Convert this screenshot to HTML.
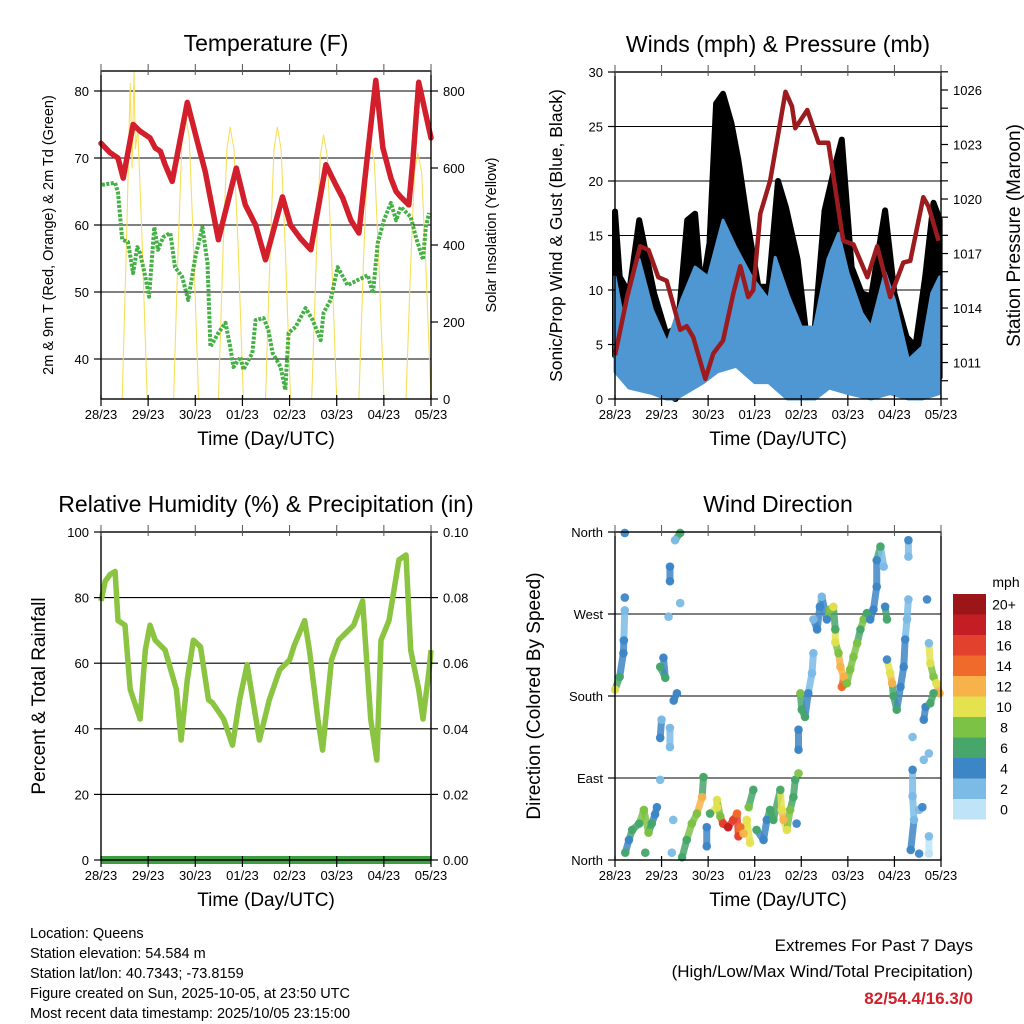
<!DOCTYPE html>
<html><head><meta charset="utf-8">
<style>
html,body{margin:0;padding:0;background:#fff;}
svg{display:block;font-family:"Liberation Sans",Arial,sans-serif;}
</style></head>
<body>
<svg id="root" width="1024" height="1024" viewBox="0 0 1024 1024" xmlns="http://www.w3.org/2000/svg">
<rect width="1024" height="1024" fill="#fff"/>
<g id="p1"></g>
<g id="p2"></g>
<g id="p3"></g>
<g id="p4"></g>
<g font-size="14.5" fill="#000">
<text x="30" y="938">Location: Queens</text>
<text x="30" y="958">Station elevation: 54.584 m</text>
<text x="30" y="978">Station lat/lon: 40.7343; -73.8159</text>
<text x="30" y="998">Figure created on Sun, 2025-10-05, at 23:50 UTC</text>
<text x="30" y="1018">Most recent data timestamp: 2025/10/05 23:15:00</text>
</g>
<g text-anchor="end">
<text x="973" y="951" font-size="17">Extremes For Past 7 Days</text>
<text x="973" y="977" font-size="17">(High/Low/Max Wind/Total Precipitation)</text>
<text x="973" y="1004" font-size="17" font-weight="bold" fill="#d0202a">82/54.4/16.3/0</text>
</g>
</svg>
<script>
const NS='http://www.w3.org/2000/svg';
const dayLabels=['28/23','29/23','30/23','01/23','02/23','03/23','04/23','05/23'];
// Temperature (F)
const tempT=[0,0.19,0.36,0.47,0.68,0.83,1.04,1.15,1.26,1.36,1.51,1.83,2.06,2.21,2.49,2.87,3.06,3.28,3.49,3.85,4.02,4.23,4.45,4.77,4.98,5.13,5.3,5.47,5.83,5.98,6.15,6.26,6.36,6.53,6.62,6.74,7.0];
const tempV=[72.2,70.8,70,67,75,74,73,71.5,71,69,66.5,78.3,72,68,57.8,68.5,63,60,54.8,64.2,60,58,56.3,69,66,64,60.7,58.8,81.6,71.5,67,65,64.2,63,70,81.3,73];
const dewT=[0.02,0.3,0.36,0.45,0.57,0.68,0.77,0.83,0.94,1.02,1.13,1.21,1.32,1.47,1.57,1.72,1.85,2.0,2.15,2.26,2.32,2.49,2.64,2.74,2.81,2.96,3.02,3.21,3.28,3.45,3.55,3.64,3.81,3.91,3.98,4.13,4.34,4.49,4.66,4.72,4.87,5.02,5.23,5.45,5.66,5.77,5.87,6.0,6.15,6.26,6.36,6.57,6.68,6.83,6.89,6.96];
const dewV=[66,66.3,64.8,57.8,57.5,52.8,56.7,55.8,52.3,49.3,59.7,56.3,58.2,58.8,53.7,52.3,48.8,55.2,59.7,54.3,41.8,43.9,45.4,41.8,38.8,40.3,38.4,40.9,45.8,46.1,44.3,40.9,38.8,35.4,43.9,44.8,47.6,45.8,42.8,46.9,48.8,53.7,51,51.8,52.5,49.8,57.3,60.7,63.3,60.7,62.7,61.2,58.2,54.8,59.7,61.8];
const solarT=[0.45,0.55,0.62,0.66,0.7,0.73,0.78,0.87,0.98,1.54,1.64,1.72,1.79,1.87,1.96,2.07,2.49,2.59,2.67,2.74,2.82,2.91,3.02,3.49,3.59,3.67,3.74,3.82,3.91,4.02,4.47,4.57,4.65,4.72,4.8,4.89,5.0,5.47,5.57,5.65,5.72,5.8,5.89,6.0,6.47,6.57,6.65,6.72,6.8,6.89,7.0];
const solarV=[0,450,820,600,880,650,700,420,0,0,405,680,738,680,405,0,0,390,650,706,650,390,0,0,390,650,706,650,390,0,0,375,630,686,630,375,0,0,365,615,668,615,365,0,0,350,590,639,590,350,0];
// Winds / pressure
const gustT=[0,0.1,0.3,0.52,0.84,1.1,1.35,1.55,1.72,1.86,2.03,2.17,2.32,2.5,2.65,2.86,3.08,3.3,3.5,3.67,3.92,4.13,4.28,4.5,4.72,4.87,5.08,5.3,5.5,5.8,6.0,6.26,6.45,6.66,6.84,6.97];
const gustV=[17.2,11.2,9.7,16.4,9.7,6,6.6,16.4,17,9.7,14.3,27.1,28,25.3,21.9,15.8,10.3,10.3,20,17.6,12.8,5.1,6,17.3,21.3,23.8,12.1,9.7,9.4,17.3,9.7,5.7,4.8,11.2,18,16.5];
const windHiT=[0,0.18,0.52,0.8,1.12,1.43,1.72,2.0,2.32,2.58,2.93,3.3,3.44,3.73,4.0,4.28,4.57,4.8,5.0,5.3,5.5,5.8,6.0,6.3,6.6,6.8,6.97];
const windHi=[11.2,7.2,12.8,8.2,5.1,9.1,12.1,11.2,16.4,14,11.2,9.1,13,9.4,6.6,6.6,12.8,15.2,11.6,7.9,6.6,11.6,9.1,3.6,4.8,9.7,11.2];
const windLoT=[0,0.3,0.8,1.1,1.3,1.5,1.9,2.2,2.6,3.0,3.3,3.7,4.0,4.3,4.6,5.0,5.5,5.9,6.3,6.6,6.97];
const windLo=[4,2.5,2,0.5,0,2,3,4,4.5,3,3,1,0.5,0.5,2.5,2,1,2,0.5,0.5,2];
const presT=[0,0.26,0.54,0.72,0.93,1.11,1.4,1.54,1.68,1.94,2.11,2.32,2.54,2.69,2.86,2.97,3.12,3.33,3.66,3.8,3.87,4.13,4.37,4.58,4.9,5.12,5.42,5.63,5.91,6.19,6.34,6.62,6.73,6.95];
const presV=[1011.4,1014.6,1017.4,1017.2,1015.7,1015.5,1012.8,1013,1012.4,1010.1,1011.5,1012.2,1014.8,1016.3,1014.6,1015,1019.2,1021,1025.9,1025.1,1023.9,1024.9,1023.1,1023.1,1017.7,1017.5,1015.7,1017.4,1014.6,1016.5,1016.6,1020.1,1019.6,1017.7];
// Humidity
const rhT=[0,0.09,0.19,0.3,0.36,0.51,0.62,0.83,0.94,1.04,1.15,1.36,1.6,1.7,1.83,1.96,2.11,2.28,2.36,2.6,2.79,2.94,3.1,3.36,3.57,3.79,4.0,4.1,4.32,4.42,4.6,4.7,4.89,5.04,5.36,5.55,5.72,5.85,5.94,6.11,6.32,6.47,6.57,6.74,6.83,6.96,7.0];
const rhV=[79,85,87,88,73,71.6,52,43,64,71.6,67,64,52,36.6,55,67,65,48.8,48,43,35,48.8,59.5,36.6,48.8,58,61,65.5,73,64,43,33.5,61,67,71.6,79,43,30.5,67,73,91.5,93,64,52,43,58,64];
const precipT=[0,7];
const precipV=[0,0];
// Wind direction observations (10 per line)
const dirT=[
0,0.1,0.18,0.19,0.21,0.21,0.21,0.22,0.3,0.37,
0.52,0.62,0.72,0.79,0.86,0.9,0.65,0.97,0.97,1.08,
1.04,1.0,0.97,1.18,1.18,1.15,1.18,1.18,1.29,1.4,
1.4,1.33,1.26,1.25,1.22,1.44,1.54,1.65,1.76,1.87,
1.9,1.97,1.97,2.04,2.19,2.19,2.26,2.32,2.43,2.54,
2.62,2.65,2.69,2.76,2.83,2.9,2.87,2.97,3.04,3.19,
3.26,3.33,3.4,3.55,3.58,3.62,3.69,3.76,3.83,3.87,
3.9,3.94,3.94,3.94,3.98,4.01,4.08,4.15,4.23,4.26,
4.26,4.34,4.4,4.44,4.55,4.62,4.69,4.73,4.73,4.8,
4.84,4.91,4.87,4.98,5.05,5.12,5.2,5.27,5.34,5.41,
5.48,5.55,5.62,5.62,5.7,5.77,5.8,5.84,5.84,5.91,
5.95,5.98,6.05,6.13,6.2,6.23,6.27,6.3,6.3,6.3,
6.39,6.39,6.39,6.42,6.35,6.53,6.53,6.6,6.63,6.63,
6.67,6.74,6.74,6.74,6.7,6.74,6.77,6.84,6.9,6.97,
6.84,6.77];
const dirDeg=[
187,201,227,241,274,359,288,8,22,33,
40,55,30,40,50,58,8,88,212,200,
222,154,134,145,124,267,322,306,351,359,
282,183,175,44,8,3,22,40,51,69,
91,36,15,51,58,66,48,40,36,44,
51,26,36,29,44,19,58,77,33,22,
44,55,44,77,55,44,33,55,69,88,
40,95,143,121,183,165,157,183,205,227,
264,253,278,289,264,275,278,253,239,227,
212,201,190,194,209,223,238,253,264,271,
264,275,300,329,344,322,278,264,220,205,
194,180,165,190,212,242,264,286,351,333,
135,99,70,44,11,55,7,58,110,154,
168,117,26,7,286,238,216,201,194,183,
183,172];
const dirSpd=[
10,6,4,4,2,4,4,6,4,6,
6,8,8,6,4,4,6,2,6,6,
4,2,4,2,2,2,4,4,2,6,
2,4,4,2,2,6,6,8,8,12,
6,4,4,6,10,10,8,16,18,16,
14,16,14,12,10,10,8,6,6,4,
4,6,6,6,10,12,10,8,6,6,
4,8,4,4,8,6,6,4,2,2,
2,4,4,2,4,8,10,6,10,8,
12,12,14,8,8,8,8,6,8,6,
4,4,4,4,6,2,4,6,4,10,
12,6,6,4,4,4,2,2,4,2,
2,4,2,2,4,2,4,4,2,4,
4,2,2,0,4,2,10,8,10,12,
6,6];
const cbLabels=['0','2','4','6','8','10','12','14','16','18','20+'];
const cbColors=['#bfe4f8','#7cbbe6','#3d86c6','#47a66a','#7cc245','#e4e24f','#f8b24a','#f06b2b','#e2412e','#c41e24','#9c1519'];

function el(tag,attrs,parent,text){const e=document.createElementNS(NS,tag);for(const k in attrs)e.setAttribute(k,attrs[k]);if(text!==undefined)e.textContent=text;parent.appendChild(e);return e;}
function pathD(xs,ys){return xs.map((x,i)=>(i?'L':'M')+x.toFixed(1)+' '+ys[i].toFixed(1)).join(' ');}

function frame(g,L,R,T,B,o){
  o.grid.forEach(yv=>{const l=el('line',{x1:L,x2:R,y1:yv,y2:yv,stroke:'#000','stroke-width':1.1},g);
    });
}
function axes(g,L,R,T,B,o){
  const b=el('rect',{x:L,y:T,width:R-L,height:B-T,fill:'none',stroke:'#000','stroke-width':1.4},g);
  
  for(let d=0;d<8;d++){const x=L+d/7*(R-L);
    const t=el('line',{x1:x,x2:x,y1:B-4,y2:B+7,stroke:'#000','stroke-width':1.2},g);
    
    const t2=el('line',{x1:x,x2:x,y1:T-7,y2:T+4,stroke:'#555','stroke-width':1},g);
    
    const lb=el('text',{x:x,y:B+20,'font-size':13,'text-anchor':'middle'},g,dayLabels[d]);
    }
  const xt=el('text',{x:(L+R)/2,y:B+46,'font-size':19,'text-anchor':'middle'},g,'Time (Day/UTC)');
  
  const tt=el('text',{x:(L+R)/2,y:T-20,'font-size':23,'text-anchor':'middle'},g,o.title);
  
  o.left.forEach(([y,s])=>{const t=el('line',{x1:L-7,x2:L,y1:y,y2:y,stroke:'#000','stroke-width':1.2},g);
    
    const lb=el('text',{x:L-12,y:y+5,'font-size':13,'text-anchor':'end'},g,s);
    });
  (o.right||[]).forEach(([y,s])=>{const t=el('line',{x1:R,x2:R+7,y1:y,y2:y,stroke:'#000','stroke-width':1.2},g);
    
    if(s!==''){const lb=el('text',{x:R+12,y:y+5,'font-size':13},g,s);
    }});
  const ly=el('text',{x:o.lyx,y:(T+B)/2,'font-size':o.lfs,'text-anchor':'middle',transform:`rotate(-90 ${o.lyx} ${(T+B)/2})`},g,o.ltitle);
  
  if(o.rtitle){const ry=el('text',{x:o.ryx,y:(T+B)/2,'font-size':o.rfs,'text-anchor':'middle',transform:`rotate(-90 ${o.ryx} ${(T+B)/2})`},g,o.rtitle);
  }
}

// ---------- Panel 1: temperature ----------
(function(){
  const g=document.getElementById('p1');const L=101,R=431,T=71,B=399;
  const ty=v=>91+(80-v)*6.7, sy=v=>399-v*0.385, xs=t=>L+t/7*(R-L);
  frame(g,L,R,T,B,{grid:[80,70,60,50,40].map(ty)});
  const s=el('path',{d:pathD(solarT.map(xs),solarV.map(v=>Math.max(T,sy(v)))),fill:'none',stroke:'#f8df5a','stroke-width':1.1,'stroke-linejoin':'round'},g);
  
  const d=el('path',{d:pathD(dewT.map(xs),dewV.map(ty)),fill:'none',stroke:'#45b046','stroke-width':4,'stroke-dasharray':'3 1.5','stroke-linejoin':'round'},g);
  
  const r=el('path',{d:pathD(tempT.map(xs),tempV.map(ty)),fill:'none',stroke:'#d21f2b','stroke-width':5.5,'stroke-linejoin':'round','stroke-linecap':'round'},g);
  
  axes(g,L,R,T,B,{title:'Temperature (F)',left:[80,70,60,50,40].map(v=>[ty(v),String(v)]),
    right:[0,200,400,600,800].map(v=>[sy(v),String(v)]),lyx:53,lfs:14.5,ltitle:'2m & 9m T (Red, Orange) & 2m Td (Green)',ryx:496,rfs:14.5,rtitle:'Solar Insolation (Yellow)'});
})();

// ---------- Panel 2: winds ----------
(function(){
  const g=document.getElementById('p2');const L=615,R=941,T=72,B=399;
  const wy=v=>399-v*10.9, py=v=>90+(1026-v)*18.17, xs=t=>L+t/7*(R-L);
  frame(g,L,R,T,B,{grid:[30,25,20,15,10,5].map(wy)});
  const loX=windLoT.map(xs).reverse(), loY=windLo.map(wy).reverse();
  const k=el('path',{d:pathD(gustT.map(xs).concat(loX),gustV.map(wy).concat(loY))+'Z',fill:'#000',stroke:'#000','stroke-width':6,'stroke-linejoin':'round'},g);
  
  const b=el('path',{d:pathD(windHiT.map(xs).concat(loX),windHi.map(wy).concat(windLo.map(v=>wy(Math.max(0,v-1.5))).reverse()))+'Z',fill:'#4f97d2',stroke:'#4f97d2','stroke-width':3,'stroke-linejoin':'round'},g);
  
  const p=el('path',{d:pathD(presT.map(xs),presV.map(py)),fill:'none',stroke:'#9b1b1e','stroke-width':4.5,'stroke-linejoin':'round'},g);
  
  const rt=[];for(let v=1009;v<=1027;v++)rt.push([py(v),(v-1011)%3===0?String(v):'']);
  axes(g,L,R,T,B,{title:'Winds (mph) & Pressure (mb)',left:[0,5,10,15,20,25,30].map(v=>[wy(v),String(v)]),
    right:rt,lyx:562,lfs:17.5,ltitle:'Sonic/Prop Wind & Gust (Blue, Black)',ryx:1020,rfs:19,rtitle:'Station Pressure (Maroon)'});
})();

// ---------- Panel 3: humidity ----------
(function(){
  const g=document.getElementById('p3');const L=101,R=431,T=532,B=860;
  const hy=v=>860-v*3.28, ry=v=>860-v*3280, xs=t=>L+t/7*(R-L);
  frame(g,L,R,T,B,{grid:[100,80,60,40,20,0].map(hy)});
  const pr=el('path',{d:pathD(precipT.map(xs),precipV.map(ry)),fill:'none',stroke:'#3f9e42','stroke-width':8},g);
  
  const h=el('path',{d:pathD(rhT.map(xs),rhV.map(hy)),fill:'none',stroke:'#8ac440','stroke-width':5.5,'stroke-linejoin':'round'},g);
  
  axes(g,L,R,T,B,{title:'Relative Humidity (%) & Precipitation (in)',left:[0,20,40,60,80,100].map(v=>[hy(v),String(v)]),
    right:[0,0.02,0.04,0.06,0.08,0.1].map(v=>[ry(v),v.toFixed(2)]),lyx:45,lfs:19,ltitle:'Percent & Total Rainfall'});
})();

// ---------- Panel 4: wind direction ----------
(function(){
  const g=document.getElementById('p4');const L=615,R=941,T=532,B=860;
  const dy=v=>860-v/360*328, xs=t=>L+t/7*(R-L);
  frame(g,L,R,T,B,{grid:[90,180,270].map(dy)});
  const cidx=s=>Math.min(10,Math.floor(s/2));
  // streaks between neighbouring observations
  for(let i=1;i<dirT.length;i++){
    const dt=Math.abs(dirT[i]-dirT[i-1]), dd=Math.abs(dirDeg[i]-dirDeg[i-1]);
    if(dt<=0.16 && dd<=35){
      const s=el('line',{x1:xs(dirT[i-1]),y1:dy(dirDeg[i-1]),x2:xs(dirT[i]),y2:dy(dirDeg[i]),stroke:cbColors[cidx(dirSpd[i])],'stroke-width':7,'stroke-linecap':'round','stroke-opacity':0.85},g);
      
      
    }
  }
  dirT.forEach((t,i)=>{
    const c=el('circle',{cx:xs(t),cy:dy(dirDeg[i]),r:4.3,fill:cbColors[cidx(dirSpd[i])],'fill-opacity':0.95},g);
    
    
  });
  axes(g,L,R,T,B,{title:'Wind Direction',left:[[dy(0),'North'],[dy(90),'East'],[dy(180),'South'],[dy(270),'West'],[dy(360),'North']],
    right:[],lyx:540,lfs:19,ltitle:'Direction (Colored By Speed)'});
  const cb=el('g',{},g);
  const h=20.5,top=594;
  cbLabels.forEach((lab,i)=>{const j=10-i;const y=top+j*h;
    const r=el('rect',{x:953,y:y,width:33,height:h,fill:cbColors[i]},cb);
    
    const t=el('text',{x:1004,y:y+h/2+5,'font-size':14,'text-anchor':'middle'},cb,lab);
    });
  const u=el('text',{x:1006,y:587,'font-size':14,'text-anchor':'middle'},cb,'mph');
  
})();
</script>
</body></html>
